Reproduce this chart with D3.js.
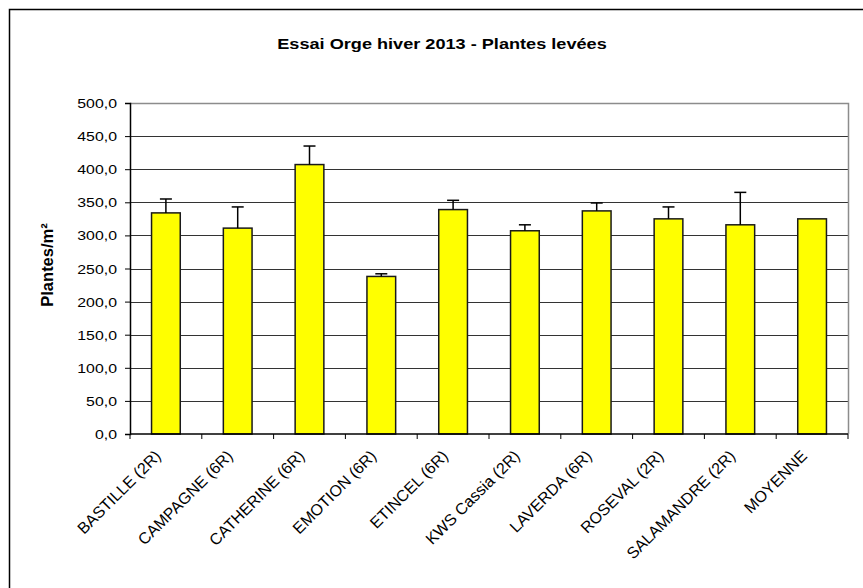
<!DOCTYPE html>
<html>
<head>
<meta charset="utf-8">
<script src="https://cdn.jsdelivr.net/npm/d3@7"></script>
<style>
  html, body { margin: 0; padding: 0; background: #fff; }
  svg { display: block; }
  text { font-family: "Liberation Sans", Arial, sans-serif; fill: #000; }
</style>
</head>
<body>
<svg id="chart" width="863" height="588"></svg>
<script>
const categories = ["BASTILLE (2R)", "CAMPAGNE (6R)", "CATHERINE (6R)", "EMOTION (6R)", "ETINCEL (6R)", "KWS Cassia (2R)", "LAVERDA (6R)", "ROSEVAL (2R)", "SALAMANDRE (2R)", "MOYENNE"];
const values = [334, 311, 407, 238, 339, 307, 337, 325, 316, 325];
const errors = [21, 32, 28, 4, 14, 9, 12, 18, 49, 0];
const yTicks = [0, 50, 100, 150, 200, 250, 300, 350, 400, 450, 500];
const title = "Essai Orge hiver 2013 - Plantes levées";
const yTitle = "Plantes/m²";

const svg = d3.select("#chart");
const plot = { left: 130, right: 848, top: 103, bottom: 434 };

// outer chart frame
svg.append("rect").attr("x", 9.5).attr("y", 9.5).attr("width", 900).attr("height", 700)
  .attr("fill", "none").attr("stroke", "#000").attr("stroke-width", 1.5);

const x = d3.scaleBand().domain(categories).range([plot.left, plot.right]).padding(0);
const y = d3.scaleLinear().domain([0, 500]).range([plot.bottom, plot.top]);

// gridlines
svg.append("g").selectAll("line").data(yTicks.filter(d => d > 0 && d < 500)).join("line")
  .attr("x1", plot.left).attr("x2", plot.right)
  .attr("y1", d => Math.round(y(d)) + 0.5).attr("y2", d => Math.round(y(d)) + 0.5)
  .attr("stroke", "#333").attr("stroke-width", 1.2);

// plot area border (top & right)
svg.append("path")
  .attr("d", `M${plot.left},${plot.top + 0.5}H${plot.right + 0.5}V${plot.bottom}`)
  .attr("fill", "none").attr("stroke", "#8c8c8c").attr("stroke-width", 1.5);

// bars
const bw = x.bandwidth() * 0.4;
svg.append("g").selectAll("rect").data(values).join("rect")
  .attr("x", (d, i) => x(categories[i]) + (x.bandwidth() - bw) / 2)
  .attr("y", d => y(d))
  .attr("width", bw)
  .attr("height", d => y(0) - y(d))
  .attr("fill", "#ffff00").attr("stroke", "#1a1a1a").attr("stroke-width", 1.5);

// error bars
const eg = svg.append("g").attr("stroke", "#000").attr("stroke-width", 1.5);
values.forEach((v, i) => {
  if (!errors[i]) return;
  const cx = x(categories[i]) + x.bandwidth() / 2;
  eg.append("line").attr("x1", cx).attr("x2", cx).attr("y1", y(v)).attr("y2", y(v + errors[i]));
  eg.append("line").attr("x1", cx - 6).attr("x2", cx + 6).attr("y1", y(v + errors[i])).attr("y2", y(v + errors[i]));
});

// y axis
const fmt = d => d.toFixed(1).replace(".", ",");
const yAxis = svg.append("g").attr("transform", `translate(${plot.left},0)`)
  .call(d3.axisLeft(y).tickValues(yTicks).tickFormat(fmt).tickSize(5).tickPadding(8));
yAxis.select(".domain").attr("stroke", "#000").attr("stroke-width", 1.5);
yAxis.selectAll(".tick line").attr("stroke", "#000").attr("stroke-width", 1);
yAxis.selectAll(".tick text")
  .attr("font-size", 13).attr("font-family", "Liberation Sans, Arial, sans-serif").attr("fill", "#000")
  .attr("x", null).attr("dy", null)
  .attr("transform", "translate(-13,0) scale(1.22,1)").attr("dy", "0.35em");

// x axis
const tickPos = categories.map(c => x(c)).concat([plot.right]);
const xg = svg.append("g");
xg.append("line").attr("x1", plot.left).attr("x2", plot.right).attr("y1", plot.bottom).attr("y2", plot.bottom)
  .attr("stroke", "#000").attr("stroke-width", 1.5);
xg.selectAll("line.tk").data(tickPos).join("line").attr("class", "tk")
  .attr("x1", d => d).attr("x2", d => d).attr("y1", plot.bottom).attr("y2", plot.bottom + 5)
  .attr("stroke", "#000").attr("stroke-width", 1);
xg.selectAll("text").data(categories).join("text")
  .attr("transform", d => `translate(${x(d) + x.bandwidth() / 2 - 8},${plot.bottom + 19}) rotate(-45)`)
  .attr("text-anchor", "end").attr("dy", "0.35em")
  .attr("font-size", 16).text(d => d);

// title
svg.append("text").attr("transform", "translate(442,49) scale(1.21,1)").attr("text-anchor", "middle")
  .attr("font-size", 15).attr("font-weight", "bold").text(title);

// y title
svg.append("text").attr("transform", `translate(53,265) rotate(-90)`)
  .attr("text-anchor", "middle").attr("font-size", 16.5).attr("font-weight", "bold").text(yTitle);
</script>
</body>
</html>
